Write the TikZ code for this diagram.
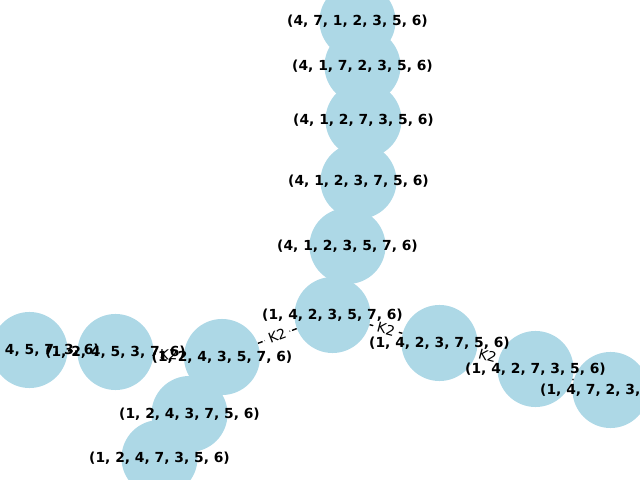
\documentclass[tikz,border=0pt]{standalone}
\usepackage{fontspec}
\setsansfont{DejaVu Sans}
\usepackage{tikz}
\usetikzlibrary{backgrounds}
\definecolor{nodeblue}{RGB}{173,216,230}

\begin{document}
\begin{tikzpicture}[x=0.01in, y=-0.01in,
    vertex/.style={circle, fill=nodeblue, minimum size=0.76in, inner sep=0pt},
    perm/.style={font=\sffamily\bfseries\fontsize{10}{12}\selectfont, inner sep=0pt},
    move/.style={black, line width=1pt, dash pattern=on 3.7pt off 1.6pt},
    klabel/.style={font=\sffamily\fontsize{10}{12}\selectfont, fill=white, rounded corners=3pt, inner sep=3pt, sloped}]
    \useasboundingbox (0,0) rectangle (640,480);
    \clip (0,0) rectangle (640,480);

    % circles
    \node[vertex] (a) at (357.5,21) {};
    \node[vertex] (b) at (362.5,66) {};
    \node[vertex] (c) at (363.5,120) {};
    \node[vertex] (d) at (358.5,181) {};
    \node[vertex] (e) at (347.5,246) {};
    \node[vertex] (f) at (332.5,315) {};
    \node[vertex] (g) at (439.5,343) {};
    \node[vertex] (h) at (535.5,369) {};
    \node[vertex] (i) at (610.5,390) {};
    \node[vertex] (j) at (222,357) {};
    \node[vertex] (k) at (189.5,414) {};
    \node[vertex] (l) at (159.5,458) {};
    \node[vertex] (m) at (115.5,352) {};
    \node[vertex] (n) at (29.5,350) {};

    % moves between orderings
    \begin{scope}[on background layer]
        \draw[move] (a) -- (b);
        \draw[move] (b) -- (c);
        \draw[move] (c) -- (d);
        \draw[move] (d) -- (e);
        \draw[move] (e) -- (f);
        \draw[move] (f) -- (g) node[klabel, midway] {K2};
        \draw[move] (g) -- (h) node[klabel, midway] {K2};
        \draw[move] (h) -- (i);
        \draw[move] (j) -- (f) node[klabel, midway] {K2};
        \draw[move] (m) -- (j) node[klabel, midway] {K2};
        \draw[move] (n) -- (m);
        \draw[move] (j) -- (k);
        \draw[move] (k) -- (l);
    \end{scope}

    % labels
    \node[perm] (a-t) at (a) {(4, 7, 1, 2, 3, 5, 6)};
    \node[perm] (b-t) at (b) {(4, 1, 7, 2, 3, 5, 6)};
    \node[perm] (c-t) at (c) {(4, 1, 2, 7, 3, 5, 6)};
    \node[perm] (d-t) at (d) {(4, 1, 2, 3, 7, 5, 6)};
    \node[perm] (e-t) at (e) {(4, 1, 2, 3, 5, 7, 6)};
    \node[perm] (f-t) at (f) {(1, 4, 2, 3, 5, 7, 6)};
    \node[perm] (g-t) at (g) {(1, 4, 2, 3, 7, 5, 6)};
    \node[perm] (h-t) at (h) {(1, 4, 2, 7, 3, 5, 6)};
    \node[perm] (i-t) at (i) {(1, 4, 7, 2, 3, 5, 6)};
    \node[perm] (j-t) at (j) {(1, 2, 4, 3, 5, 7, 6)};
    \node[perm] (k-t) at (k) {(1, 2, 4, 3, 7, 5, 6)};
    \node[perm] (l-t) at (l) {(1, 2, 4, 7, 3, 5, 6)};
    \node[perm] (m-t) at (m) {(1, 2, 4, 5, 3, 7, 6)};
    \node[perm] (n-t) at (n) {(1, 2, 4, 5, 7, 3, 6)};
\end{tikzpicture}
\end{document}
